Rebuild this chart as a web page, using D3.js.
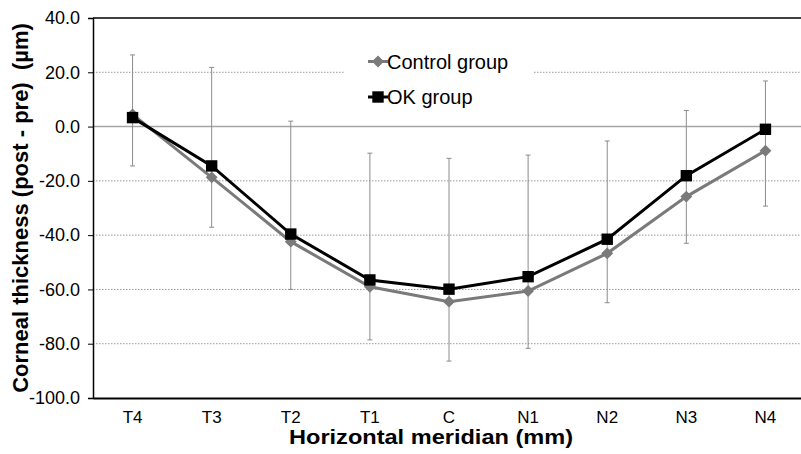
<!DOCTYPE html>
<html lang="en">
	<head>
		<meta charset="utf-8">
		<title>Corneal thickness</title>
		<script type="text/javascript" src="https://cdn.jsdelivr.net/npm/d3@7"></script>
		<style type="text/css">
			html, body{
				margin: 0;
				padding: 0;
				background-color: white;
				overflow: hidden;
			}
			text{
				font-family: "Liberation Sans", Arial, sans-serif;
				fill: #000;
			}
			.axis_title{
				font-weight: bold;
				text-anchor: middle;
				white-space: pre;
			}
			.grid{
				stroke: #9a9a9a;
				stroke-width: 1;
				stroke-dasharray: 1.5,1.5;
			}
		</style>
	</head>
	<body>
		<div id="chart"></div>
		<script type="text/javascript">

			// data
			var categories = ["T4", "T3", "T2", "T1", "C", "N1", "N2", "N3", "N4"];
			var controlGroup = [4.5, -18.7, -42.4, -59.0, -64.5, -60.6, -46.7, -25.8, -8.9];
			var okGroup = [3.3, -14.5, -39.6, -56.5, -59.9, -55.3, -41.5, -18.1, -1.0];
			var errTop = [26.4, 21.8, 2.0, -9.8, -11.7, -10.5, -5.3, 5.9, 16.8];
			var errBottom = [-14.5, -37.1, -60.0, -78.6, -86.4, -81.7, -64.9, -43.0, -29.3];
			var yTicks = [40, 20, 0, -20, -40, -60, -80, -100];
			var gridValues = [20, -20, -40, -60, -80];

			var w = 801;
			var h = 454;

			// plot area (right side runs off the picture)
			var plotLeft = 93, plotTop = 18, plotRight = 805, plotBottom = 398;

			var svg = d3.select("#chart")
						.append("svg")
						.attr("width", w)
						.attr("height", h);

			var xScale = d3.scaleBand()
						.domain(categories)
						.range([plotLeft, plotRight]);

			var yScale = d3.scaleLinear()
						.domain([-100, 40])
						.range([plotBottom, plotTop]);

			var xMid = function(d){ return xScale(d) + xScale.bandwidth()/2; };

			////////////////////////////////////////////////////////////////////////
			// grid lines
			svg.selectAll("line.grid")
				.data(gridValues)
				.enter()
				.append("line")
				.attr("class", "grid")
				.attr("x1", plotLeft)
				.attr("x2", w)
				.attr("y1", function(d){ return yScale(d); })
				.attr("y2", function(d){ return yScale(d); });

			// zero line
			svg.append("line")
				.attr("x1", plotLeft)
				.attr("x2", w)
				.attr("y1", yScale(0))
				.attr("y2", yScale(0))
				.attr("stroke", "#a6a6a6")
				.attr("stroke-width", 1.5);

			// top border
			svg.append("line")
				.attr("x1", plotLeft).attr("x2", w)
				.attr("y1", plotTop).attr("y2", plotTop)
				.attr("stroke", "#000").attr("stroke-width", 1.5);

			// plain hyphen for negatives, like the original
			var fmt = function(d){ return d.toFixed(1); };

			var yAxis = d3.axisLeft(yScale)
						.tickValues(yTicks)
						.tickSize(5)
						.tickPadding(8)
						.tickFormat(fmt);

			var yAxisG = svg.append("g")
						.attr("transform", "translate(" + plotLeft + ",0)")
						.call(yAxis);
			yAxisG.select(".domain").attr("stroke", "#000").attr("stroke-width", 1.5);
			yAxisG.selectAll(".tick line").attr("stroke", "#000");
			yAxisG.selectAll(".tick text")
				.style("font-size", "18px")
				.style("font-family", "Liberation Sans, Arial, sans-serif")
				.attr("fill", "#000");

			var xAxis = d3.axisBottom(xScale)
						.tickSize(0)
						.tickPadding(13);

			var xAxisG = svg.append("g")
						.attr("transform", "translate(0," + plotBottom + ")")
						.call(xAxis);
			xAxisG.select(".domain").attr("stroke", "#000").attr("stroke-width", 2);
			xAxisG.selectAll(".tick text")
				.style("font-size", "17px")
				.style("font-family", "Liberation Sans, Arial, sans-serif")
				.attr("fill", "#000");

			////////////////////////////////////////////////////////////////////////
			// error bars
			var bars = svg.selectAll("g.errbar")
						.data(categories)
						.enter()
						.append("g")
						.attr("class", "errbar")
						.attr("stroke", "#8c8c8c")
						.attr("stroke-width", 1);

			bars.append("line")
				.attr("x1", xMid).attr("x2", xMid)
				.attr("y1", function(d, i){ return yScale(errTop[i]); })
				.attr("y2", function(d, i){ return yScale(errBottom[i]); });
			bars.append("line")
				.attr("x1", function(d){ return xMid(d) - 2.5; })
				.attr("x2", function(d){ return xMid(d) + 2.5; })
				.attr("y1", function(d, i){ return yScale(errTop[i]); })
				.attr("y2", function(d, i){ return yScale(errTop[i]); });
			bars.append("line")
				.attr("x1", function(d){ return xMid(d) - 2.5; })
				.attr("x2", function(d){ return xMid(d) + 2.5; })
				.attr("y1", function(d, i){ return yScale(errBottom[i]); })
				.attr("y2", function(d, i){ return yScale(errBottom[i]); });

			////////////////////////////////////////////////////////////////////////
			// series
			var line = d3.line()
						.x(function(d, i){ return xMid(categories[i]); })
						.y(function(d){ return yScale(d); });

			var diamond = d3.symbol().type(d3.symbolDiamond2).size(90);
			var square = d3.symbol().type(d3.symbolSquare).size(130);

			svg.append("path")
				.datum(controlGroup)
				.attr("d", line)
				.attr("fill", "none")
				.attr("stroke", "#7a7a7a")
				.attr("stroke-width", 3);

			svg.selectAll("path.ctrl")
				.data(controlGroup)
				.enter()
				.append("path")
				.attr("class", "ctrl")
				.attr("d", diamond)
				.attr("fill", "#7a7a7a")
				.attr("transform", function(d, i){ return "translate(" + xMid(categories[i]) + "," + yScale(d) + ")"; });

			svg.append("path")
				.datum(okGroup)
				.attr("d", line)
				.attr("fill", "none")
				.attr("stroke", "#000")
				.attr("stroke-width", 3);

			svg.selectAll("path.okg")
				.data(okGroup)
				.enter()
				.append("path")
				.attr("class", "okg")
				.attr("d", square)
				.attr("fill", "#000")
				.attr("transform", function(d, i){ return "translate(" + xMid(categories[i]) + "," + yScale(d) + ")"; });

			////////////////////////////////////////////////////////////////////////
			// legend
			var legend = svg.append("g");
			legend.append("rect")
				.attr("x", 345).attr("y", 42)
				.attr("width", 188).attr("height", 70)
				.attr("fill", "white");

			var legendItems = [
				{name: "Control group", color: "#7a7a7a", sym: diamond, y: 61.5},
				{name: "OK group", color: "#000", sym: square, y: 97}
			];

			legendItems.forEach(function(item){
				legend.append("line")
					.attr("x1", 368).attr("x2", 388)
					.attr("y1", item.y).attr("y2", item.y)
					.attr("stroke", item.color)
					.attr("stroke-width", 3);
				legend.append("path")
					.attr("d", item.sym)
					.attr("fill", item.color)
					.attr("transform", "translate(378," + item.y + ")");
				legend.append("text")
					.attr("x", 387)
					.attr("y", item.y + 7)
					.style("font-size", "20px")
					.text(item.name);
			});

			////////////////////////////////////////////////////////////////////////
			// axis titles
			svg.append("text")
				.attr("class", "axis_title")
				.attr("x", 431)
				.attr("y", 444)
				.attr("textLength", 284)
				.attr("lengthAdjust", "spacingAndGlyphs")
				.style("font-size", "20px")
				.text("Horizontal meridian (mm)");

			svg.append("text")
				.attr("class", "axis_title")
				.attr("transform", "translate(28," + (plotTop + plotBottom)/2 + ") rotate(-90)")
				.style("font-size", "22px")
				.text("Corneal thickness (post - pre)  (\u00b5m)");

		</script>
	</body>
</html>
